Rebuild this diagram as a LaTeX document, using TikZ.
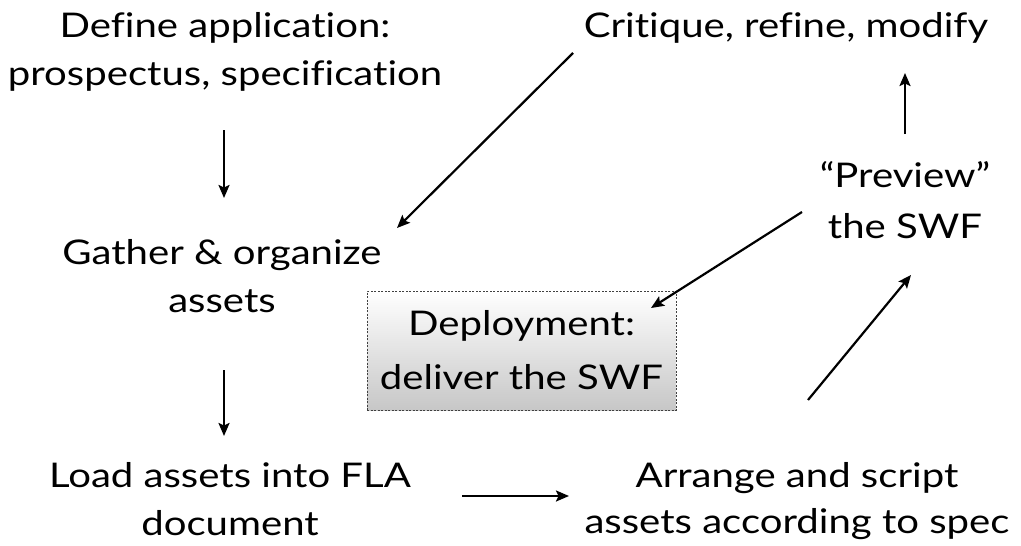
\documentclass[tikz,border=0pt]{standalone}
\usepackage{fontspec}
\setmainfont{Lato}[Ligatures=NoCommon,FakeStretch=1.18]
\usetikzlibrary{arrows.meta}
\begin{document}
\begin{tikzpicture}[x=1pt,y=-1pt,
  lbl/.style={align=center,font=\fontsize{34}{48}\selectfont,inner sep=0pt,anchor=base},
  arr/.style={line width=2.2pt,-{Stealth[length=13pt,width=11pt,inset=2.5pt]}},
  deploybox/.style={draw=black!75,line width=0.8pt,dash pattern=on 2pt off 1.5pt,
    top color=white,bottom color=black!22,minimum width=309pt,minimum height=119pt,
    align=center,font=\fontsize{34}{54}\selectfont,inner sep=0pt}]
\useasboundingbox (0,0) rectangle (1021,546);
\node[lbl] (def) at (225,85) {Define application:\\prospectus, specification};
\node[lbl] (crit) at (786,37) {Critique, refine, modify};
\node[lbl] (gather) at (222,312) {Gather \& organize\\assets};
\node[lbl,font=\fontsize{34}{51}\selectfont] (prev) at (905,238) {“Preview”\\the SWF};
\node[deploybox] (deploy) at (521.5,350.5) {Deployment:\\deliver the SWF};
\node[lbl] (load) at (230,535) {Load assets into FLA\\document};
\node[lbl,font=\fontsize{34}{46}\selectfont] (arrange) at (797,533) {Arrange and script\\assets according to spec};
\coordinate (a1s) at (224,130); \coordinate (a1e) at (224,198);
\coordinate (a2s) at (224,370); \coordinate (a2e) at (224,436);
\coordinate (a3s) at (462,496); \coordinate (a3e) at (569,496);
\coordinate (a4s) at (808,400); \coordinate (a4e) at (911,275);
\coordinate (a5s) at (905,134); \coordinate (a5e) at (905,73);
\coordinate (a6s) at (573,53); \coordinate (a6e) at (397,228);
\coordinate (a7s) at (802,212); \coordinate (a7e) at (651,308);
\draw[arr] (a1s) -- (a1e);
\draw[arr] (a2s) -- (a2e);
\draw[arr] (a3s) -- (a3e);
\draw[arr] (a4s) -- (a4e);
\draw[arr] (a5s) -- (a5e);
\draw[arr] (a6s) -- (a6e);
\draw[arr] (a7s) -- (a7e);
\end{tikzpicture}
\end{document}
